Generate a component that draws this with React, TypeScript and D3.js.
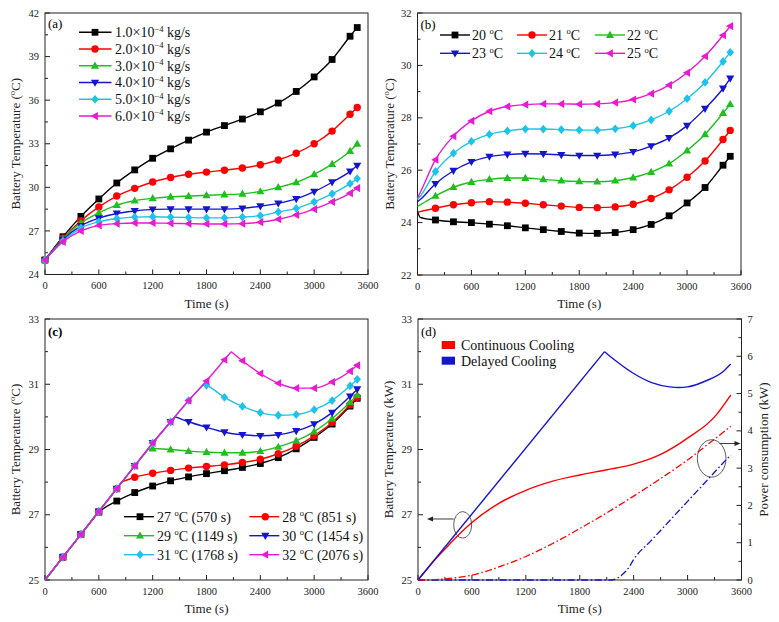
import React from 'react';
import * as d3 from 'd3';

const FONT = '"Liberation Serif", "Times New Roman", serif';
const W = 779;
const H = 622;

const COLORS = ['#000000', '#ff0000', '#1fbf1f', '#1515d0', '#1ec3ea', '#e81ad2'];
const SHAPES = ['square', 'circle', 'triUp', 'triDown', 'diamond', 'triLeft'];

const X_MAJOR = [0, 600, 1200, 1800, 2400, 3000, 3600];
const X_MINOR = [300, 900, 1500, 2100, 2700, 3300];

// ---------- Panel (a): mass flow rate ----------
const A_TIMES = [0, 200, 400, 600, 800, 1000, 1200, 1400, 1600, 1800, 2000, 2200, 2400, 2600, 2800, 3000, 3200, 3400, 3480];
const A_LABELS = ['1.0', '2.0', '3.0', '4.0', '5.0', '6.0'];
const A_FLOW_1 = [25, 26.6, 28.0, 29.2, 30.3, 31.2, 32.0, 32.65, 33.25, 33.8, 34.25, 34.7, 35.2, 35.8, 36.6, 37.6, 38.8, 40.4, 41.0];
const A_FLOW_2 = [25, 26.5, 27.7, 28.65, 29.4, 29.93, 30.37, 30.68, 30.9, 31.05, 31.18, 31.33, 31.55, 31.88, 32.35, 33.0, 33.87, 35.03, 35.5];
const A_FLOW_3 = [25, 26.45, 27.55, 28.25, 28.78, 29.08, 29.24, 29.35, 29.4, 29.45, 29.5, 29.55, 29.72, 30.0, 30.35, 30.9, 31.6, 32.5, 33.0];
const A_FLOW_4 = [25, 26.4, 27.35, 27.88, 28.2, 28.37, 28.48, 28.5, 28.5, 28.5, 28.5, 28.55, 28.7, 28.9, 29.2, 29.7, 30.35, 31.1, 31.5];
const A_FLOW_5 = [25, 26.3, 27.2, 27.62, 27.85, 27.95, 27.98, 27.95, 27.92, 27.9, 27.9, 27.95, 28.05, 28.3, 28.55, 29.0, 29.55, 30.25, 30.6];
const A_FLOW_6 = [25, 26.25, 27.0, 27.38, 27.5, 27.55, 27.55, 27.52, 27.5, 27.48, 27.48, 27.5, 27.6, 27.8, 28.1, 28.5, 29.0, 29.6, 29.95];
const A_Y_MAJOR = [24, 27, 30, 33, 36, 39, 42];

// ---------- Panel (b): inlet temperature ----------
const B_TIMES = [0, 30, 200, 400, 600, 800, 1000, 1200, 1400, 1600, 1800, 2000, 2200, 2400, 2600, 2800, 3000, 3200, 3400, 3480];
const B_LABELS = ['20', '21', '22', '23', '24', '25'];
const B_T20 = [24.45, 24.2, 24.1, 24.03, 24.0, 23.94, 23.88, 23.8, 23.73, 23.66, 23.6, 23.59, 23.62, 23.73, 23.93, 24.26, 24.75, 25.34, 26.19, 26.53];
const B_T21 = [24.4, 24.42, 24.55, 24.68, 24.76, 24.8, 24.78, 24.74, 24.68, 24.63, 24.58, 24.57, 24.6, 24.7, 24.92, 25.25, 25.73, 26.35, 27.17, 27.52];
const B_T22 = [24.62, 24.68, 25.02, 25.35, 25.55, 25.65, 25.7, 25.7, 25.65, 25.6, 25.57, 25.56, 25.6, 25.72, 25.93, 26.25, 26.75, 27.37, 28.18, 28.52];
const B_T23 = [24.8, 24.88, 25.48, 25.98, 26.32, 26.52, 26.6, 26.63, 26.62, 26.58, 26.56, 26.56, 26.6, 26.7, 26.92, 27.23, 27.7, 28.35, 29.12, 29.5];
const B_T24 = [24.88, 25.0, 25.95, 26.65, 27.1, 27.37, 27.5, 27.57, 27.57, 27.55, 27.53, 27.53, 27.58, 27.7, 27.92, 28.25, 28.73, 29.35, 30.15, 30.5];
const B_T25 = [24.95, 25.15, 26.4, 27.3, 27.88, 28.25, 28.43, 28.5, 28.53, 28.53, 28.52, 28.53, 28.58, 28.7, 28.92, 29.25, 29.72, 30.35, 31.15, 31.5];
const B_Y_MAJOR = [22, 24, 26, 28, 30, 32];

// ---------- Panel (c): delayed cooling start ----------
const C_RISE_T = [0, 200, 400, 600, 800, 1000, 1200, 1400, 1600, 1800, 2000];
const C_RISE_V = [25, 25.7, 26.4, 27.1, 27.8, 28.5, 29.2, 29.85, 30.5, 31.1, 31.75];
const C_LABELS = ['27', '28', '29', '30', '31', '32'];
const C_SWITCH_T = [570, 851, 1149, 1454, 1768, 2076];
const C_SWITCH_V = [27, 28, 29, 30, 31, 32];
const C_POST_T27 = [600, 800, 1000, 1200, 1400, 1600, 1800, 2000, 2200, 2400, 2600, 2800, 3000, 3200, 3400, 3480];
const C_POST_V27 = [27.08, 27.42, 27.68, 27.88, 28.04, 28.16, 28.26, 28.35, 28.45, 28.57, 28.75, 29.02, 29.37, 29.78, 30.33, 30.57];
const C_POST_T28 = [1000, 1200, 1400, 1600, 1800, 2000, 2200, 2400, 2600, 2800, 3000, 3200, 3400, 3480];
const C_POST_V28 = [28.15, 28.27, 28.36, 28.43, 28.48, 28.53, 28.6, 28.7, 28.87, 29.1, 29.42, 29.83, 30.37, 30.6];
const C_POST_T29 = [1200, 1400, 1600, 1800, 2000, 2200, 2400, 2600, 2800, 3000, 3200, 3400, 3480];
const C_POST_V29 = [29.03, 29.0, 28.95, 28.92, 28.9, 28.9, 28.95, 29.08, 29.27, 29.55, 29.95, 30.45, 30.67];
const C_POST_T30 = [1600, 1800, 2000, 2200, 2400, 2600, 2800, 3000, 3200, 3400, 3480];
const C_POST_V30 = [29.85, 29.68, 29.53, 29.45, 29.42, 29.45, 29.57, 29.78, 30.13, 30.63, 30.85];
const C_POST_T31 = [1800, 2000, 2200, 2400, 2600, 2800, 3000, 3200, 3400, 3480];
const C_POST_V31 = [30.97, 30.6, 30.32, 30.13, 30.05, 30.07, 30.22, 30.5, 30.95, 31.15];
const C_POST_T32 = [2200, 2400, 2600, 2800, 3000, 3200, 3400, 3480];
const C_POST_V32 = [31.72, 31.33, 31.03, 30.88, 30.88, 31.07, 31.4, 31.58];
const C_Y_MAJOR = [25, 27, 29, 31, 33];

// ---------- Panel (d): continuous vs delayed ----------
const D_CONT_T = [0, 150, 300, 450, 600, 900, 1200, 1500, 1800, 2100, 2400, 2700, 3000, 3300, 3480];
const D_CONT_V = [25, 25.5, 25.95, 26.38, 26.76, 27.35, 27.75, 28.03, 28.22, 28.38, 28.55, 28.85, 29.35, 30.0, 30.67];
const D_DEL_RISE_T = [0, 2076];
const D_DEL_RISE_V = [25, 32];
const D_DEL_POST_T = [2076, 2200, 2400, 2600, 2800, 2900, 3000, 3200, 3400, 3480];
const D_DEL_POST_V = [32, 31.72, 31.33, 31.05, 30.92, 30.9, 30.92, 31.1, 31.4, 31.62];
const D_CONT_P_T = [0, 300, 600, 900, 1200, 1500, 1800, 2100, 2400, 2700, 3000, 3300, 3480];
const D_CONT_P_V = [0, 0.03, 0.13, 0.35, 0.63, 0.98, 1.38, 1.8, 2.25, 2.72, 3.22, 3.78, 4.12];
const D_DEL_P_T = [0, 2150, 2250, 2350, 2400, 2600, 2800, 3000, 3200, 3400, 3480];
const D_DEL_P_V = [0, 0, 0.1, 0.35, 0.55, 1.07, 1.59, 2.11, 2.63, 3.15, 3.35];
const D_Y_MAJOR = [25, 27, 29, 31, 33];
const D_YR_MAJOR = [0, 1, 2, 3, 4, 5, 6, 7];

type Frame = { x0: number; x1: number; yT: number; yB: number };
const PA: Frame = { x0: 45, x1: 368, yT: 13, yB: 274.5 };
const PB: Frame = { x0: 417.5, x1: 741, yT: 13, yB: 275 };
const PC: Frame = { x0: 45, x1: 368, yT: 319, yB: 580 };
const PD: Frame = { x0: 418, x1: 741.5, yT: 319, yB: 580 };

const zip = (t: number[], v: number[]) => t.map((tt, i) => [tt, v[i]] as [number, number]);

function Marker({ shape, x, y, color }: { shape: string; x: number; y: number; color: string }) {
  const s = 3.4;
  switch (shape) {
    case 'square':
      return <rect x={x - s} y={y - s} width={2 * s} height={2 * s} fill={color} />;
    case 'circle':
      return <circle cx={x} cy={y} r={s + 0.3} fill={color} />;
    case 'triUp':
      return <path d={`M${x},${y - s * 1.25}L${x + s * 1.2},${y + s * 0.85}L${x - s * 1.2},${y + s * 0.85}Z`} fill={color} />;
    case 'triDown':
      return <path d={`M${x},${y + s * 1.25}L${x + s * 1.2},${y - s * 0.85}L${x - s * 1.2},${y - s * 0.85}Z`} fill={color} />;
    case 'diamond':
      return <path d={`M${x},${y - s * 1.3}L${x + s * 1.1},${y}L${x},${y + s * 1.3}L${x - s * 1.1},${y}Z`} fill={color} />;
    case 'triLeft':
      return <path d={`M${x - s * 1.25},${y}L${x + s * 0.85},${y - s * 1.2}L${x + s * 0.85},${y + s * 1.2}Z`} fill={color} />;
    default:
      return null;
  }
}

function Axes({ p, x, y, yMajor, yMinor, xTitle, yTitle, yTitleX }: any) {
  return (
    <g fontFamily={FONT} fill="#222">
      <rect x={p.x0} y={p.yT} width={p.x1 - p.x0} height={p.yB - p.yT} fill="none" stroke="#222" strokeWidth={1} />
      {X_MAJOR.map((t) => (
        <line key={'xm' + t} x1={x(t)} x2={x(t)} y1={p.yB} y2={p.yB - 5} stroke="#222" />
      ))}
      {X_MINOR.map((t) => (
        <line key={'xn' + t} x1={x(t)} x2={x(t)} y1={p.yB} y2={p.yB - 3} stroke="#222" />
      ))}
      {X_MAJOR.map((t) => (
        <text key={'xl' + t} x={x(t)} y={p.yB + 14.5} textAnchor="middle" fontSize={10.5}>
          {t}
        </text>
      ))}
      {yMajor.map((v: number) => (
        <line key={'ym' + v} x1={p.x0} x2={p.x0 + 5} y1={y(v)} y2={y(v)} stroke="#222" />
      ))}
      {yMinor.map((v: number) => (
        <line key={'yn' + v} x1={p.x0} x2={p.x0 + 3} y1={y(v)} y2={y(v)} stroke="#222" />
      ))}
      {yMajor.map((v: number) => (
        <text key={'yl' + v} x={p.x0 - 6} y={y(v) + 3.6} textAnchor="end" fontSize={10.5}>
          {v}
        </text>
      ))}
      {xTitle && (
        <text x={(p.x0 + p.x1) / 2} y={p.yB + 33} textAnchor="middle" fontSize={13}>
          {xTitle}
        </text>
      )}
      <text
        transform={`translate(${yTitleX},${(p.yT + p.yB) / 2}) rotate(-90)`}
        textAnchor="middle"
        fontSize={13}
      >
        {yTitle}
      </text>
    </g>
  );
}

const degC = (
  <>
    (<tspan dy={-5} fontSize={8.5}>o</tspan>
    <tspan dy={5}>C)</tspan>
  </>
);

function Series({ pts, x, y, color, shape, markerPts, curve }: any) {
  const line = d3
    .line<[number, number]>()
    .x((d) => x(d[0]))
    .y((d) => y(d[1]))
    .curve(curve || d3.curveMonotoneX);
  return (
    <g>
      <path d={line(pts) || ''} fill="none" stroke={color} strokeWidth={1.4} />
      {markerPts.map((d: [number, number], i: number) => (
        <Marker key={i} shape={shape} x={x(d[0])} y={y(d[1])} color={color} />
      ))}
    </g>
  );
}

function PanelA() {
  const p = PA;
  const x = d3.scaleLinear().domain([0, 3600]).range([p.x0, p.x1]);
  const y = d3.scaleLinear().domain([24, 42]).range([p.yB, p.yT]);
  const series = [A_FLOW_1, A_FLOW_2, A_FLOW_3, A_FLOW_4, A_FLOW_5, A_FLOW_6];
  const yMinor = d3.range(25.5, 42, 3);
  return (
    <g>
      <Axes p={p} x={x} y={y} yMajor={A_Y_MAJOR} yMinor={yMinor} xTitle="Time (s)" yTitle={<>Battery Temperature {degC}</>} yTitleX={20} />
      {series.map((v, i) => {
        const pts = zip(A_TIMES, v);
        return <Series key={i} pts={pts} markerPts={pts} x={x} y={y} color={COLORS[i]} shape={SHAPES[i]} />;
      })}
      <text x={p.x0 + 3} y={p.yT + 15} fontFamily={FONT} fontSize={13}>(a)</text>
      {A_LABELS.map((lab, i) => {
        const ly = 32.3 + i * 16.75;
        return (
          <g key={i}>
            <line x1={79} x2={111.5} y1={ly} y2={ly} stroke={COLORS[i]} strokeWidth={1.4} />
            <Marker shape={SHAPES[i]} x={95} y={ly} color={COLORS[i]} />
            <text x={115} y={ly + 4.8} fontFamily={FONT} fontSize={14} fill="#111">
              {lab}×10<tspan dy={-5.5} fontSize={8.5}>−4</tspan>
              <tspan dy={5.5}> kg/s</tspan>
            </text>
          </g>
        );
      })}
    </g>
  );
}

function PanelB() {
  const p = PB;
  const x = d3.scaleLinear().domain([0, 3600]).range([p.x0, p.x1]);
  const y = d3.scaleLinear().domain([22, 32]).range([p.yB, p.yT]);
  const series = [B_T20, B_T21, B_T22, B_T23, B_T24, B_T25];
  const yMinor = d3.range(23, 32, 2);
  const colX = [440, 517, 595];
  return (
    <g>
      <Axes p={p} x={x} y={y} yMajor={B_Y_MAJOR} yMinor={yMinor} xTitle="Time (s)" yTitle={<>Battery Temperature {degC}</>} yTitleX={394} />
      {series.map((v, i) => {
        const pts = zip(B_TIMES, v);
        const mk = pts.filter((d) => d[0] >= 200);
        return <Series key={i} pts={pts} markerPts={mk} x={x} y={y} color={COLORS[i]} shape={SHAPES[i]} />;
      })}
      <text x={p.x0 + 3} y={p.yT + 16} fontFamily={FONT} fontSize={13}>(b)</text>
      {B_LABELS.map((lab, i) => {
        const lx = colX[i % 3];
        const ly = 35 + Math.floor(i / 3) * 18.3;
        return (
          <g key={i}>
            <line x1={lx} x2={lx + 30} y1={ly} y2={ly} stroke={COLORS[i]} strokeWidth={1.4} />
            <Marker shape={SHAPES[i]} x={lx + 15} y={ly} color={COLORS[i]} />
            <text x={lx + 32} y={ly + 4.8} fontFamily={FONT} fontSize={14} fill="#111">
              {lab} <tspan dy={-5.5} fontSize={8.5}>o</tspan>
              <tspan dy={5.5}>C</tspan>
            </text>
          </g>
        );
      })}
    </g>
  );
}

function PanelC() {
  const p = PC;
  const x = d3.scaleLinear().domain([0, 3600]).range([p.x0, p.x1]);
  const y = d3.scaleLinear().domain([25, 33]).range([p.yB, p.yT]);
  const posts = [
    [C_POST_T27, C_POST_V27],
    [C_POST_T28, C_POST_V28],
    [C_POST_T29, C_POST_V29],
    [C_POST_T30, C_POST_V30],
    [C_POST_T31, C_POST_V31],
    [C_POST_T32, C_POST_V32],
  ];
  const yMinor = [26, 28, 30, 32];
  const rise = zip(C_RISE_T, C_RISE_V);
  const legPos = [
    [124, 516.7], [249.3, 516.7],
    [124, 535.7], [249.3, 535.7],
    [124, 554.7], [249.3, 554.7],
  ];
  const lineL = d3.line<[number, number]>().x((d) => x(d[0])).y((d) => y(d[1]));
  const lineC = d3.line<[number, number]>().x((d) => x(d[0])).y((d) => y(d[1])).curve(d3.curveMonotoneX);
  return (
    <g>
      <Axes p={p} x={x} y={y} yMajor={C_Y_MAJOR} yMinor={yMinor} xTitle="Time (s)" yTitle={<>Battery Temperature {degC}</>} yTitleX={20} />
      {posts.map(([tt, vv], i) => {
        const sw: [number, number] = [C_SWITCH_T[i], C_SWITCH_V[i]];
        const risePts = rise.filter((d) => d[0] < sw[0]);
        const postPts = zip(tt, vv);
        const mk = [...risePts.filter((d) => d[0] > 0), ...postPts];
        return (
          <g key={i}>
            <path d={lineL([...risePts, sw]) || ''} fill="none" stroke={COLORS[i]} strokeWidth={1.4} />
            <path d={lineC([sw, ...postPts]) || ''} fill="none" stroke={COLORS[i]} strokeWidth={1.4} />
            {mk.map((d, j) => (
              <Marker key={j} shape={SHAPES[i]} x={x(d[0])} y={y(d[1])} color={COLORS[i]} />
            ))}
          </g>
        );
      })}
      <text x={p.x0 + 3} y={p.yT + 17} fontFamily={FONT} fontSize={13} fontWeight="bold">(c)</text>
      {C_LABELS.map((lab, i) => {
        const [lx, ly] = legPos[i];
        return (
          <g key={i}>
            <line x1={lx} x2={lx + 30} y1={ly} y2={ly} stroke={COLORS[i]} strokeWidth={1.4} />
            <Marker shape={SHAPES[i]} x={lx + 16} y={ly} color={COLORS[i]} />
            <text x={lx + 33} y={ly + 4.8} fontFamily={FONT} fontSize={14} fill="#111">
              {lab} <tspan dy={-5.5} fontSize={8.5}>o</tspan>
              <tspan dy={5.5}>C ({C_SWITCH_T[i]} s)</tspan>
            </text>
          </g>
        );
      })}
    </g>
  );
}

function PanelD() {
  const p = PD;
  const x = d3.scaleLinear().domain([0, 3600]).range([p.x0, p.x1]);
  const y = d3.scaleLinear().domain([25, 33]).range([p.yB, p.yT]);
  const yr = d3.scaleLinear().domain([0, 7]).range([p.yB, p.yT]);
  const yMinor = [26, 28, 30, 32];
  const yrMinor = d3.range(0.5, 7, 1);
  const lineT = (sc: any, c: any) => d3.line<[number, number]>().x((d) => x(d[0])).y((d) => sc(d[1])).curve(c);
  const dash = '7,2.5,1.6,2.5';
  const e1 = { t: 497, v: 26.69 };
  const e2 = { t: 3268, v: 3.26 };
  return (
    <g>
      <Axes p={p} x={x} y={y} yMajor={D_Y_MAJOR} yMinor={yMinor} xTitle="Time (s)" yTitle={<>Battery Temperature (kW)</>} yTitleX={393} />
      <g fontFamily={FONT} fill="#222">
        {D_YR_MAJOR.map((v) => (
          <line key={'rm' + v} x1={p.x1} x2={p.x1 - 5} y1={yr(v)} y2={yr(v)} stroke="#222" />
        ))}
        {yrMinor.map((v) => (
          <line key={'rn' + v} x1={p.x1} x2={p.x1 - 3} y1={yr(v)} y2={yr(v)} stroke="#222" />
        ))}
        {D_YR_MAJOR.map((v) => (
          <text key={'rl' + v} x={p.x1 + 6} y={yr(v) + 3.6} fontSize={10.5}>
            {v}
          </text>
        ))}
        <text transform={`translate(768,${(p.yT + p.yB) / 2}) rotate(-90)`} textAnchor="middle" fontSize={13}>
          Power consumption (kW)
        </text>
      </g>
      <path d={lineT(yr, d3.curveMonotoneX)(zip(D_DEL_P_T, D_DEL_P_V)) || ''} fill="none" stroke="#1515d0" strokeWidth={1.3} strokeDasharray={dash} />
      <path d={lineT(yr, d3.curveMonotoneX)(zip(D_CONT_P_T, D_CONT_P_V)) || ''} fill="none" stroke="#ff0000" strokeWidth={1.3} strokeDasharray={dash} />
      <path d={lineT(y, d3.curveMonotoneX)(zip(D_CONT_T, D_CONT_V)) || ''} fill="none" stroke="#ff0000" strokeWidth={1.4} />
      <path d={lineT(y, d3.curveLinear)(zip(D_DEL_RISE_T, D_DEL_RISE_V)) || ''} fill="none" stroke="#1515d0" strokeWidth={1.4} />
      <path d={lineT(y, d3.curveMonotoneX)(zip(D_DEL_POST_T, D_DEL_POST_V)) || ''} fill="none" stroke="#1515d0" strokeWidth={1.4} />
      {/* annotations */}
      <ellipse cx={x(e1.t)} cy={y(e1.v)} rx={9} ry={13.3} fill="none" stroke="#333" strokeWidth={0.8} />
      <line x1={x(e1.t) - 9} x2={x(100) + 5} y1={y(26.87)} y2={y(26.87)} stroke="#222" strokeWidth={0.9} />
      <path d={`M${x(100)},${y(26.87)}l6,-2.5l0,5Z`} fill="#222" />
      <ellipse cx={x(e2.t)} cy={yr(e2.v)} rx={14.3} ry={18.7} fill="none" stroke="#333" strokeWidth={0.8} />
      <line x1={x(3355)} x2={p.x1 - 5} y1={yr(3.66)} y2={yr(3.66)} stroke="#222" strokeWidth={0.9} />
      <path d={`M${p.x1 - 1},${yr(3.66)}l-6,-2.5l0,5Z`} fill="#222" />
      <text x={p.x0 + 3} y={p.yT + 17} fontFamily={FONT} fontSize={13}>(d)</text>
      <rect x={441.7} y={341} width={13.3} height={8} fill="#ff0000" />
      <text x={461} y={350} fontFamily={FONT} fontSize={14} fill="#111">Continuous Cooling</text>
      <rect x={441.7} y={356.7} width={13.3} height={8} fill="#1515d0" />
      <text x={461} y={366} fontFamily={FONT} fontSize={14} fill="#111">Delayed Cooling</text>
    </g>
  );
}

export default function App() {
  return (
    <svg width={W} height={H} style={{ position: 'absolute', left: 0, top: 0, background: '#fff' }}>
      <rect x={0} y={0} width={W} height={H} fill="#fff" />
      <PanelA />
      <PanelB />
      <PanelC />
      <PanelD />
    </svg>
  );
}
